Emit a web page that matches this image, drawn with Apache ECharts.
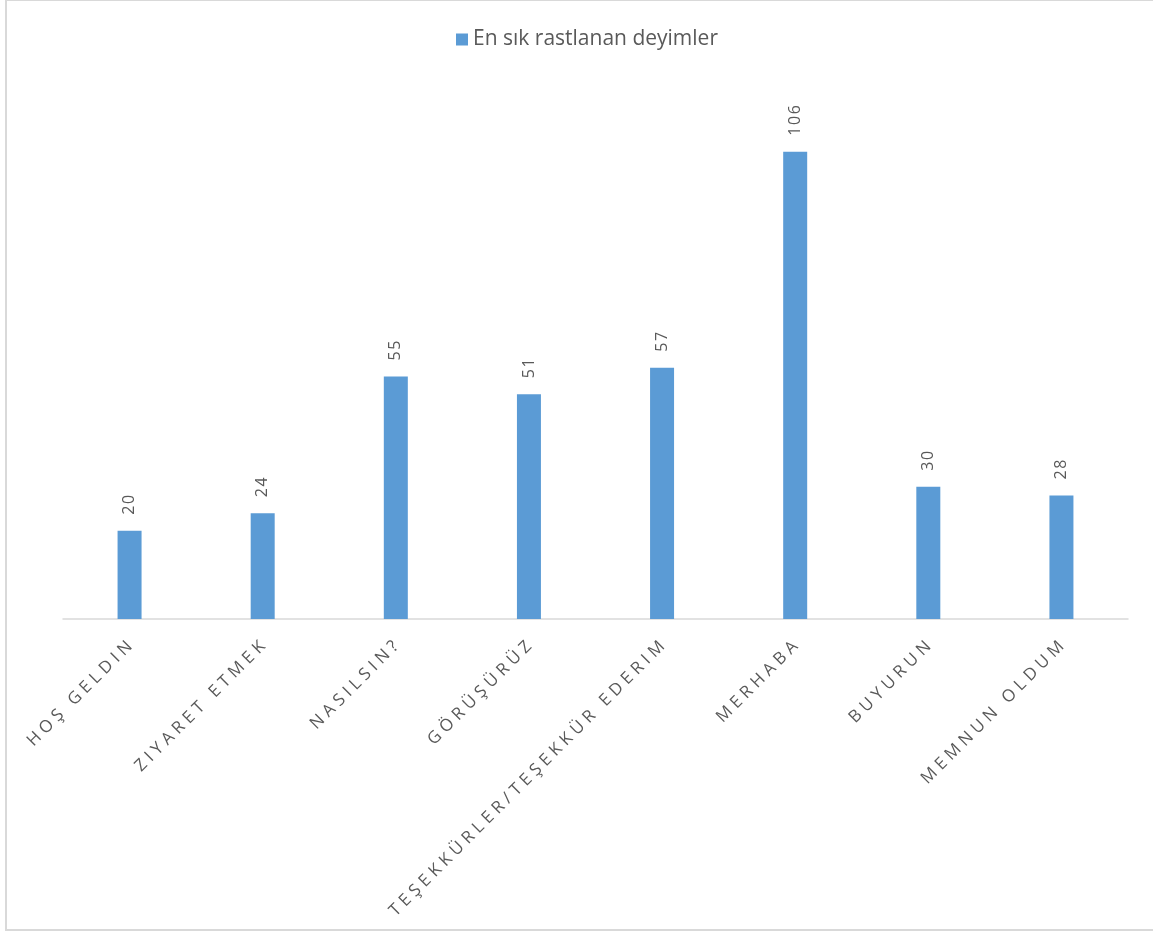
<!DOCTYPE html>
<html>
<head>
<meta charset="utf-8">
<script src="https://cdn.jsdelivr.net/npm/echarts@6/dist/echarts.min.js"></script>
<style>
  html, body { margin: 0; padding: 0; background: #fff; }
  #frame {
    position: absolute; left: 5px; top: 0; width: 1160px; height: 931px;
    border-top: 1px solid #d9d9d9; border-left: 2px solid #d9d9d9; border-bottom: 2px solid #d9d9d9;
    box-sizing: border-box;
  }
  #chart { position: absolute; left: 0; top: 0; width: 1153px; height: 935px; }
</style>
</head>
<body>
<div id="frame"></div>
<div id="chart"></div>
<script>
// Most frequent expressions and how often each one occurred
const categories = [
  'HOŞ GELDIN', 'ZIYARET ETMEK', 'NASILSIN?', 'GÖRÜŞÜRÜZ',
  'TEŞEKKÜRLER/TEŞEKKÜR EDERIM', 'MERHABA', 'BUYURUN', 'MEMNUN OLDUM'
];
const counts = [20, 24, 55, 51, 57, 106, 30, 28];
const seriesName = 'En sık rastlanan deyimler';

const textColor = '#595959';
const font = 'Open Sans';

// spread out the letters of captions and value labels
const spaced = (s, gap) => Array.from(String(s)).join(gap);

const chart = echarts.init(document.getElementById('chart'));
chart.setOption({
  animation: false,
  legend: {
    top: 29,
    left: 456,
    padding: 0,
    itemWidth: 12,
    itemHeight: 12,
    itemGap: 7,
    icon: 'rect',
    textStyle: { color: textColor, fontFamily: font, fontSize: 21 },
    data: [seriesName]
  },
  grid: { left: 63, right: 25, top: 90, bottom: 316, containLabel: false },
  xAxis: {
    type: 'category',
    data: categories,
    axisLine: { show: true, lineStyle: { color: '#d9d9d9', width: 1.5 } },
    axisTick: { show: false },
    axisLabel: {
      rotate: 45,
      interval: 0,
      margin: 25,
      color: textColor,
      fontFamily: font,
      fontSize: 17,
      formatter: v => spaced(v, '\u2009\u200A')
    }
  },
  yAxis: {
    type: 'value',
    min: 0,
    max: 120,
    show: false,
    splitLine: { show: false }
  },
  series: [{
    name: seriesName,
    type: 'bar',
    data: counts,
    barWidth: 24,
    itemStyle: { color: '#5b9bd5' },
    label: {
      show: true,
      position: 'top',
      rotate: 90,
      align: 'left',
      verticalAlign: 'middle',
      distance: 16,
      color: textColor,
      fontFamily: font,
      fontSize: 16,
      formatter: p => spaced(p.value, '\u200A')
    }
  }]
});
</script>
</body>
</html>
